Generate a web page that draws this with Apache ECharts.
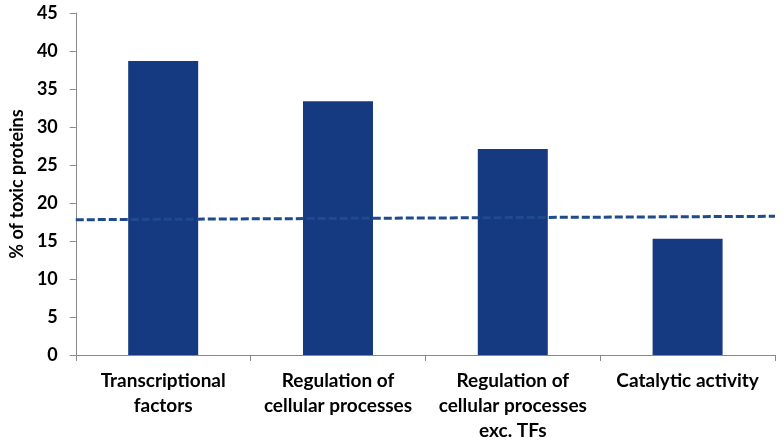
<!DOCTYPE html>
<html><head><meta charset="utf-8">
<script src="https://cdn.jsdelivr.net/npm/echarts@6/dist/echarts.min.js"></script>
<style>html,body{margin:0;padding:0;background:#fff}#c{width:784px;height:443px}</style>
</head><body><div id="c"></div>
<script>
const categories = ['Transcriptional\nfactors', 'Regulation of\ncellular processes', 'Regulation of\ncellular processes\nexc. TFs', 'Catalytic activity'];
const values = [38.7, 33.4, 27.1, 15.3];
const baselineValues = [17.8, 18.25];
const yTicks = { min: 0, max: 45, interval: 5 };
const yName = '% of toxic proteins';

const font = 'Lato, "Open Sans", sans-serif';
const chart = echarts.init(document.getElementById('c'));
chart.setOption({
  animation: false,
  grid: { left: 70, right: 9, top: 13, bottom: 87 },
  xAxis: [{
    type: 'category', data: categories,
    axisLine: { lineStyle: { color: '#888', width: 1 } },
    axisTick: { show: true, length: 6, lineStyle: { color: '#888' } },
    axisLabel: { color: '#000', fontWeight: 'bold', fontSize: 19, fontFamily: font, margin: 13, lineHeight: 25, interval: 0 }
  }, {
    type: 'value', min: 0, max: 1, show: false
  }],
  yAxis: {
    type: 'value', min: yTicks.min, max: yTicks.max, interval: yTicks.interval,
    name: yName, nameLocation: 'middle', nameGap: 48, nameRotate: 90,
    nameTextStyle: { color: '#000', fontWeight: 'bold', fontSize: 18, fontFamily: font },
    axisLine: { show: true, lineStyle: { color: '#888', width: 1 } },
    axisTick: { show: true, length: 6, lineStyle: { color: '#888' } },
    axisLabel: { color: '#000', fontWeight: 'bold', fontSize: 18, fontFamily: font, margin: 18 },
    splitLine: { show: false }
  },
  series: [{
    type: 'bar', data: values, barWidth: 70, xAxisIndex: 0,
    itemStyle: { color: '#163a82' }
  }, {
    type: 'line', xAxisIndex: 1, data: [[0, baselineValues[0]], [1, baselineValues[1]]],
    symbol: 'none', lineStyle: { color: '#1f4a8c', width: 3, type: [8, 3] }, z: 3
  }]
});
</script></body></html>
